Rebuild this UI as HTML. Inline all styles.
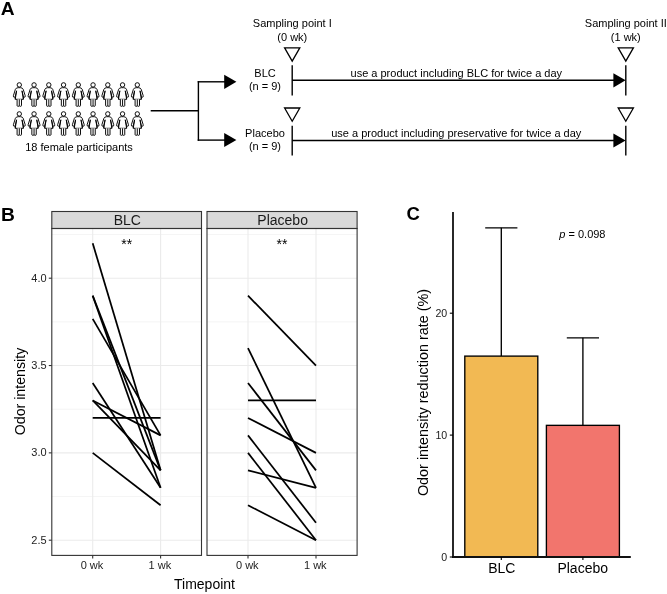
<!DOCTYPE html><html><head><meta charset="utf-8"><style>
html,body{margin:0;padding:0;background:#fff;width:667px;height:594px;overflow:hidden}
svg{display:block;will-change:transform}text{font-family:"Liberation Sans", sans-serif}
</style></head><body>
<svg width="667" height="594" viewBox="0 0 667 594">
<rect width="667" height="594" fill="#fff"/>
<text x="0.7" y="15.0" font-size="19.2" font-weight="bold" fill="#000">A</text>
<text x="0.9" y="220.9" font-size="19.2" font-weight="bold" fill="#000">B</text>
<text x="406.4" y="220.3" font-size="18.5" font-weight="bold" fill="#000">C</text>
<circle cx="19.30" cy="84.90" r="2.2" fill="none" stroke="#000" stroke-width="0.95"/><path d="M18.10 87.70 Q16.00 87.80 15.40 89.30 L13.40 95.70 Q13.10 97.30 14.30 97.20 L15.20 96.80 L15.25 99.30 L23.35 99.30 L23.40 96.80 L24.30 97.20 Q25.50 97.30 25.20 95.70 L23.20 89.30 Q22.60 87.80 20.50 87.70 Z" fill="#fff" stroke="#000" stroke-width="0.95" stroke-linejoin="round"/><path d="M15.20 96.80 L16.60 90.80 L15.25 99.30" fill="none" stroke="#000" stroke-width="0.95" stroke-linejoin="round"/><path d="M23.40 96.80 L22.00 90.80 L23.35 99.30" fill="none" stroke="#000" stroke-width="0.95" stroke-linejoin="round"/><path d="M17.10 99.30 L17.10 105.60 Q17.10 106.30 18.20 106.30 Q19.30 106.30 19.30 105.60 Q19.30 106.30 20.40 106.30 Q21.50 106.30 21.50 105.60 L21.50 99.30 M19.30 99.30 L19.30 105.60" fill="#fff" stroke="#000" stroke-width="0.95" stroke-linejoin="round"/>
<circle cx="34.05" cy="84.90" r="2.2" fill="none" stroke="#000" stroke-width="0.95"/><path d="M32.85 87.70 Q30.75 87.80 30.15 89.30 L28.15 95.70 Q27.85 97.30 29.05 97.20 L29.95 96.80 L30.00 99.30 L38.10 99.30 L38.15 96.80 L39.05 97.20 Q40.25 97.30 39.95 95.70 L37.95 89.30 Q37.35 87.80 35.25 87.70 Z" fill="#fff" stroke="#000" stroke-width="0.95" stroke-linejoin="round"/><path d="M29.95 96.80 L31.35 90.80 L30.00 99.30" fill="none" stroke="#000" stroke-width="0.95" stroke-linejoin="round"/><path d="M38.15 96.80 L36.75 90.80 L38.10 99.30" fill="none" stroke="#000" stroke-width="0.95" stroke-linejoin="round"/><path d="M31.85 99.30 L31.85 105.60 Q31.85 106.30 32.95 106.30 Q34.05 106.30 34.05 105.60 Q34.05 106.30 35.15 106.30 Q36.25 106.30 36.25 105.60 L36.25 99.30 M34.05 99.30 L34.05 105.60" fill="#fff" stroke="#000" stroke-width="0.95" stroke-linejoin="round"/>
<circle cx="48.80" cy="84.90" r="2.2" fill="none" stroke="#000" stroke-width="0.95"/><path d="M47.60 87.70 Q45.50 87.80 44.90 89.30 L42.90 95.70 Q42.60 97.30 43.80 97.20 L44.70 96.80 L44.75 99.30 L52.85 99.30 L52.90 96.80 L53.80 97.20 Q55.00 97.30 54.70 95.70 L52.70 89.30 Q52.10 87.80 50.00 87.70 Z" fill="#fff" stroke="#000" stroke-width="0.95" stroke-linejoin="round"/><path d="M44.70 96.80 L46.10 90.80 L44.75 99.30" fill="none" stroke="#000" stroke-width="0.95" stroke-linejoin="round"/><path d="M52.90 96.80 L51.50 90.80 L52.85 99.30" fill="none" stroke="#000" stroke-width="0.95" stroke-linejoin="round"/><path d="M46.60 99.30 L46.60 105.60 Q46.60 106.30 47.70 106.30 Q48.80 106.30 48.80 105.60 Q48.80 106.30 49.90 106.30 Q51.00 106.30 51.00 105.60 L51.00 99.30 M48.80 99.30 L48.80 105.60" fill="#fff" stroke="#000" stroke-width="0.95" stroke-linejoin="round"/>
<circle cx="63.55" cy="84.90" r="2.2" fill="none" stroke="#000" stroke-width="0.95"/><path d="M62.35 87.70 Q60.25 87.80 59.65 89.30 L57.65 95.70 Q57.35 97.30 58.55 97.20 L59.45 96.80 L59.50 99.30 L67.60 99.30 L67.65 96.80 L68.55 97.20 Q69.75 97.30 69.45 95.70 L67.45 89.30 Q66.85 87.80 64.75 87.70 Z" fill="#fff" stroke="#000" stroke-width="0.95" stroke-linejoin="round"/><path d="M59.45 96.80 L60.85 90.80 L59.50 99.30" fill="none" stroke="#000" stroke-width="0.95" stroke-linejoin="round"/><path d="M67.65 96.80 L66.25 90.80 L67.60 99.30" fill="none" stroke="#000" stroke-width="0.95" stroke-linejoin="round"/><path d="M61.35 99.30 L61.35 105.60 Q61.35 106.30 62.45 106.30 Q63.55 106.30 63.55 105.60 Q63.55 106.30 64.65 106.30 Q65.75 106.30 65.75 105.60 L65.75 99.30 M63.55 99.30 L63.55 105.60" fill="#fff" stroke="#000" stroke-width="0.95" stroke-linejoin="round"/>
<circle cx="78.30" cy="84.90" r="2.2" fill="none" stroke="#000" stroke-width="0.95"/><path d="M77.10 87.70 Q75.00 87.80 74.40 89.30 L72.40 95.70 Q72.10 97.30 73.30 97.20 L74.20 96.80 L74.25 99.30 L82.35 99.30 L82.40 96.80 L83.30 97.20 Q84.50 97.30 84.20 95.70 L82.20 89.30 Q81.60 87.80 79.50 87.70 Z" fill="#fff" stroke="#000" stroke-width="0.95" stroke-linejoin="round"/><path d="M74.20 96.80 L75.60 90.80 L74.25 99.30" fill="none" stroke="#000" stroke-width="0.95" stroke-linejoin="round"/><path d="M82.40 96.80 L81.00 90.80 L82.35 99.30" fill="none" stroke="#000" stroke-width="0.95" stroke-linejoin="round"/><path d="M76.10 99.30 L76.10 105.60 Q76.10 106.30 77.20 106.30 Q78.30 106.30 78.30 105.60 Q78.30 106.30 79.40 106.30 Q80.50 106.30 80.50 105.60 L80.50 99.30 M78.30 99.30 L78.30 105.60" fill="#fff" stroke="#000" stroke-width="0.95" stroke-linejoin="round"/>
<circle cx="93.05" cy="84.90" r="2.2" fill="none" stroke="#000" stroke-width="0.95"/><path d="M91.85 87.70 Q89.75 87.80 89.15 89.30 L87.15 95.70 Q86.85 97.30 88.05 97.20 L88.95 96.80 L89.00 99.30 L97.10 99.30 L97.15 96.80 L98.05 97.20 Q99.25 97.30 98.95 95.70 L96.95 89.30 Q96.35 87.80 94.25 87.70 Z" fill="#fff" stroke="#000" stroke-width="0.95" stroke-linejoin="round"/><path d="M88.95 96.80 L90.35 90.80 L89.00 99.30" fill="none" stroke="#000" stroke-width="0.95" stroke-linejoin="round"/><path d="M97.15 96.80 L95.75 90.80 L97.10 99.30" fill="none" stroke="#000" stroke-width="0.95" stroke-linejoin="round"/><path d="M90.85 99.30 L90.85 105.60 Q90.85 106.30 91.95 106.30 Q93.05 106.30 93.05 105.60 Q93.05 106.30 94.15 106.30 Q95.25 106.30 95.25 105.60 L95.25 99.30 M93.05 99.30 L93.05 105.60" fill="#fff" stroke="#000" stroke-width="0.95" stroke-linejoin="round"/>
<circle cx="107.80" cy="84.90" r="2.2" fill="none" stroke="#000" stroke-width="0.95"/><path d="M106.60 87.70 Q104.50 87.80 103.90 89.30 L101.90 95.70 Q101.60 97.30 102.80 97.20 L103.70 96.80 L103.75 99.30 L111.85 99.30 L111.90 96.80 L112.80 97.20 Q114.00 97.30 113.70 95.70 L111.70 89.30 Q111.10 87.80 109.00 87.70 Z" fill="#fff" stroke="#000" stroke-width="0.95" stroke-linejoin="round"/><path d="M103.70 96.80 L105.10 90.80 L103.75 99.30" fill="none" stroke="#000" stroke-width="0.95" stroke-linejoin="round"/><path d="M111.90 96.80 L110.50 90.80 L111.85 99.30" fill="none" stroke="#000" stroke-width="0.95" stroke-linejoin="round"/><path d="M105.60 99.30 L105.60 105.60 Q105.60 106.30 106.70 106.30 Q107.80 106.30 107.80 105.60 Q107.80 106.30 108.90 106.30 Q110.00 106.30 110.00 105.60 L110.00 99.30 M107.80 99.30 L107.80 105.60" fill="#fff" stroke="#000" stroke-width="0.95" stroke-linejoin="round"/>
<circle cx="122.55" cy="84.90" r="2.2" fill="none" stroke="#000" stroke-width="0.95"/><path d="M121.35 87.70 Q119.25 87.80 118.65 89.30 L116.65 95.70 Q116.35 97.30 117.55 97.20 L118.45 96.80 L118.50 99.30 L126.60 99.30 L126.65 96.80 L127.55 97.20 Q128.75 97.30 128.45 95.70 L126.45 89.30 Q125.85 87.80 123.75 87.70 Z" fill="#fff" stroke="#000" stroke-width="0.95" stroke-linejoin="round"/><path d="M118.45 96.80 L119.85 90.80 L118.50 99.30" fill="none" stroke="#000" stroke-width="0.95" stroke-linejoin="round"/><path d="M126.65 96.80 L125.25 90.80 L126.60 99.30" fill="none" stroke="#000" stroke-width="0.95" stroke-linejoin="round"/><path d="M120.35 99.30 L120.35 105.60 Q120.35 106.30 121.45 106.30 Q122.55 106.30 122.55 105.60 Q122.55 106.30 123.65 106.30 Q124.75 106.30 124.75 105.60 L124.75 99.30 M122.55 99.30 L122.55 105.60" fill="#fff" stroke="#000" stroke-width="0.95" stroke-linejoin="round"/>
<circle cx="137.30" cy="84.90" r="2.2" fill="none" stroke="#000" stroke-width="0.95"/><path d="M136.10 87.70 Q134.00 87.80 133.40 89.30 L131.40 95.70 Q131.10 97.30 132.30 97.20 L133.20 96.80 L133.25 99.30 L141.35 99.30 L141.40 96.80 L142.30 97.20 Q143.50 97.30 143.20 95.70 L141.20 89.30 Q140.60 87.80 138.50 87.70 Z" fill="#fff" stroke="#000" stroke-width="0.95" stroke-linejoin="round"/><path d="M133.20 96.80 L134.60 90.80 L133.25 99.30" fill="none" stroke="#000" stroke-width="0.95" stroke-linejoin="round"/><path d="M141.40 96.80 L140.00 90.80 L141.35 99.30" fill="none" stroke="#000" stroke-width="0.95" stroke-linejoin="round"/><path d="M135.10 99.30 L135.10 105.60 Q135.10 106.30 136.20 106.30 Q137.30 106.30 137.30 105.60 Q137.30 106.30 138.40 106.30 Q139.50 106.30 139.50 105.60 L139.50 99.30 M137.30 99.30 L137.30 105.60" fill="#fff" stroke="#000" stroke-width="0.95" stroke-linejoin="round"/>
<circle cx="19.30" cy="113.90" r="2.2" fill="none" stroke="#000" stroke-width="0.95"/><path d="M18.10 116.70 Q16.00 116.80 15.40 118.30 L13.40 124.70 Q13.10 126.30 14.30 126.20 L15.20 125.80 L15.25 128.30 L23.35 128.30 L23.40 125.80 L24.30 126.20 Q25.50 126.30 25.20 124.70 L23.20 118.30 Q22.60 116.80 20.50 116.70 Z" fill="#fff" stroke="#000" stroke-width="0.95" stroke-linejoin="round"/><path d="M15.20 125.80 L16.60 119.80 L15.25 128.30" fill="none" stroke="#000" stroke-width="0.95" stroke-linejoin="round"/><path d="M23.40 125.80 L22.00 119.80 L23.35 128.30" fill="none" stroke="#000" stroke-width="0.95" stroke-linejoin="round"/><path d="M17.10 128.30 L17.10 134.60 Q17.10 135.30 18.20 135.30 Q19.30 135.30 19.30 134.60 Q19.30 135.30 20.40 135.30 Q21.50 135.30 21.50 134.60 L21.50 128.30 M19.30 128.30 L19.30 134.60" fill="#fff" stroke="#000" stroke-width="0.95" stroke-linejoin="round"/>
<circle cx="34.05" cy="113.90" r="2.2" fill="none" stroke="#000" stroke-width="0.95"/><path d="M32.85 116.70 Q30.75 116.80 30.15 118.30 L28.15 124.70 Q27.85 126.30 29.05 126.20 L29.95 125.80 L30.00 128.30 L38.10 128.30 L38.15 125.80 L39.05 126.20 Q40.25 126.30 39.95 124.70 L37.95 118.30 Q37.35 116.80 35.25 116.70 Z" fill="#fff" stroke="#000" stroke-width="0.95" stroke-linejoin="round"/><path d="M29.95 125.80 L31.35 119.80 L30.00 128.30" fill="none" stroke="#000" stroke-width="0.95" stroke-linejoin="round"/><path d="M38.15 125.80 L36.75 119.80 L38.10 128.30" fill="none" stroke="#000" stroke-width="0.95" stroke-linejoin="round"/><path d="M31.85 128.30 L31.85 134.60 Q31.85 135.30 32.95 135.30 Q34.05 135.30 34.05 134.60 Q34.05 135.30 35.15 135.30 Q36.25 135.30 36.25 134.60 L36.25 128.30 M34.05 128.30 L34.05 134.60" fill="#fff" stroke="#000" stroke-width="0.95" stroke-linejoin="round"/>
<circle cx="48.80" cy="113.90" r="2.2" fill="none" stroke="#000" stroke-width="0.95"/><path d="M47.60 116.70 Q45.50 116.80 44.90 118.30 L42.90 124.70 Q42.60 126.30 43.80 126.20 L44.70 125.80 L44.75 128.30 L52.85 128.30 L52.90 125.80 L53.80 126.20 Q55.00 126.30 54.70 124.70 L52.70 118.30 Q52.10 116.80 50.00 116.70 Z" fill="#fff" stroke="#000" stroke-width="0.95" stroke-linejoin="round"/><path d="M44.70 125.80 L46.10 119.80 L44.75 128.30" fill="none" stroke="#000" stroke-width="0.95" stroke-linejoin="round"/><path d="M52.90 125.80 L51.50 119.80 L52.85 128.30" fill="none" stroke="#000" stroke-width="0.95" stroke-linejoin="round"/><path d="M46.60 128.30 L46.60 134.60 Q46.60 135.30 47.70 135.30 Q48.80 135.30 48.80 134.60 Q48.80 135.30 49.90 135.30 Q51.00 135.30 51.00 134.60 L51.00 128.30 M48.80 128.30 L48.80 134.60" fill="#fff" stroke="#000" stroke-width="0.95" stroke-linejoin="round"/>
<circle cx="63.55" cy="113.90" r="2.2" fill="none" stroke="#000" stroke-width="0.95"/><path d="M62.35 116.70 Q60.25 116.80 59.65 118.30 L57.65 124.70 Q57.35 126.30 58.55 126.20 L59.45 125.80 L59.50 128.30 L67.60 128.30 L67.65 125.80 L68.55 126.20 Q69.75 126.30 69.45 124.70 L67.45 118.30 Q66.85 116.80 64.75 116.70 Z" fill="#fff" stroke="#000" stroke-width="0.95" stroke-linejoin="round"/><path d="M59.45 125.80 L60.85 119.80 L59.50 128.30" fill="none" stroke="#000" stroke-width="0.95" stroke-linejoin="round"/><path d="M67.65 125.80 L66.25 119.80 L67.60 128.30" fill="none" stroke="#000" stroke-width="0.95" stroke-linejoin="round"/><path d="M61.35 128.30 L61.35 134.60 Q61.35 135.30 62.45 135.30 Q63.55 135.30 63.55 134.60 Q63.55 135.30 64.65 135.30 Q65.75 135.30 65.75 134.60 L65.75 128.30 M63.55 128.30 L63.55 134.60" fill="#fff" stroke="#000" stroke-width="0.95" stroke-linejoin="round"/>
<circle cx="78.30" cy="113.90" r="2.2" fill="none" stroke="#000" stroke-width="0.95"/><path d="M77.10 116.70 Q75.00 116.80 74.40 118.30 L72.40 124.70 Q72.10 126.30 73.30 126.20 L74.20 125.80 L74.25 128.30 L82.35 128.30 L82.40 125.80 L83.30 126.20 Q84.50 126.30 84.20 124.70 L82.20 118.30 Q81.60 116.80 79.50 116.70 Z" fill="#fff" stroke="#000" stroke-width="0.95" stroke-linejoin="round"/><path d="M74.20 125.80 L75.60 119.80 L74.25 128.30" fill="none" stroke="#000" stroke-width="0.95" stroke-linejoin="round"/><path d="M82.40 125.80 L81.00 119.80 L82.35 128.30" fill="none" stroke="#000" stroke-width="0.95" stroke-linejoin="round"/><path d="M76.10 128.30 L76.10 134.60 Q76.10 135.30 77.20 135.30 Q78.30 135.30 78.30 134.60 Q78.30 135.30 79.40 135.30 Q80.50 135.30 80.50 134.60 L80.50 128.30 M78.30 128.30 L78.30 134.60" fill="#fff" stroke="#000" stroke-width="0.95" stroke-linejoin="round"/>
<circle cx="93.05" cy="113.90" r="2.2" fill="none" stroke="#000" stroke-width="0.95"/><path d="M91.85 116.70 Q89.75 116.80 89.15 118.30 L87.15 124.70 Q86.85 126.30 88.05 126.20 L88.95 125.80 L89.00 128.30 L97.10 128.30 L97.15 125.80 L98.05 126.20 Q99.25 126.30 98.95 124.70 L96.95 118.30 Q96.35 116.80 94.25 116.70 Z" fill="#fff" stroke="#000" stroke-width="0.95" stroke-linejoin="round"/><path d="M88.95 125.80 L90.35 119.80 L89.00 128.30" fill="none" stroke="#000" stroke-width="0.95" stroke-linejoin="round"/><path d="M97.15 125.80 L95.75 119.80 L97.10 128.30" fill="none" stroke="#000" stroke-width="0.95" stroke-linejoin="round"/><path d="M90.85 128.30 L90.85 134.60 Q90.85 135.30 91.95 135.30 Q93.05 135.30 93.05 134.60 Q93.05 135.30 94.15 135.30 Q95.25 135.30 95.25 134.60 L95.25 128.30 M93.05 128.30 L93.05 134.60" fill="#fff" stroke="#000" stroke-width="0.95" stroke-linejoin="round"/>
<circle cx="107.80" cy="113.90" r="2.2" fill="none" stroke="#000" stroke-width="0.95"/><path d="M106.60 116.70 Q104.50 116.80 103.90 118.30 L101.90 124.70 Q101.60 126.30 102.80 126.20 L103.70 125.80 L103.75 128.30 L111.85 128.30 L111.90 125.80 L112.80 126.20 Q114.00 126.30 113.70 124.70 L111.70 118.30 Q111.10 116.80 109.00 116.70 Z" fill="#fff" stroke="#000" stroke-width="0.95" stroke-linejoin="round"/><path d="M103.70 125.80 L105.10 119.80 L103.75 128.30" fill="none" stroke="#000" stroke-width="0.95" stroke-linejoin="round"/><path d="M111.90 125.80 L110.50 119.80 L111.85 128.30" fill="none" stroke="#000" stroke-width="0.95" stroke-linejoin="round"/><path d="M105.60 128.30 L105.60 134.60 Q105.60 135.30 106.70 135.30 Q107.80 135.30 107.80 134.60 Q107.80 135.30 108.90 135.30 Q110.00 135.30 110.00 134.60 L110.00 128.30 M107.80 128.30 L107.80 134.60" fill="#fff" stroke="#000" stroke-width="0.95" stroke-linejoin="round"/>
<circle cx="122.55" cy="113.90" r="2.2" fill="none" stroke="#000" stroke-width="0.95"/><path d="M121.35 116.70 Q119.25 116.80 118.65 118.30 L116.65 124.70 Q116.35 126.30 117.55 126.20 L118.45 125.80 L118.50 128.30 L126.60 128.30 L126.65 125.80 L127.55 126.20 Q128.75 126.30 128.45 124.70 L126.45 118.30 Q125.85 116.80 123.75 116.70 Z" fill="#fff" stroke="#000" stroke-width="0.95" stroke-linejoin="round"/><path d="M118.45 125.80 L119.85 119.80 L118.50 128.30" fill="none" stroke="#000" stroke-width="0.95" stroke-linejoin="round"/><path d="M126.65 125.80 L125.25 119.80 L126.60 128.30" fill="none" stroke="#000" stroke-width="0.95" stroke-linejoin="round"/><path d="M120.35 128.30 L120.35 134.60 Q120.35 135.30 121.45 135.30 Q122.55 135.30 122.55 134.60 Q122.55 135.30 123.65 135.30 Q124.75 135.30 124.75 134.60 L124.75 128.30 M122.55 128.30 L122.55 134.60" fill="#fff" stroke="#000" stroke-width="0.95" stroke-linejoin="round"/>
<circle cx="137.30" cy="113.90" r="2.2" fill="none" stroke="#000" stroke-width="0.95"/><path d="M136.10 116.70 Q134.00 116.80 133.40 118.30 L131.40 124.70 Q131.10 126.30 132.30 126.20 L133.20 125.80 L133.25 128.30 L141.35 128.30 L141.40 125.80 L142.30 126.20 Q143.50 126.30 143.20 124.70 L141.20 118.30 Q140.60 116.80 138.50 116.70 Z" fill="#fff" stroke="#000" stroke-width="0.95" stroke-linejoin="round"/><path d="M133.20 125.80 L134.60 119.80 L133.25 128.30" fill="none" stroke="#000" stroke-width="0.95" stroke-linejoin="round"/><path d="M141.40 125.80 L140.00 119.80 L141.35 128.30" fill="none" stroke="#000" stroke-width="0.95" stroke-linejoin="round"/><path d="M135.10 128.30 L135.10 134.60 Q135.10 135.30 136.20 135.30 Q137.30 135.30 137.30 134.60 Q137.30 135.30 138.40 135.30 Q139.50 135.30 139.50 134.60 L139.50 128.30 M137.30 128.30 L137.30 134.60" fill="#fff" stroke="#000" stroke-width="0.95" stroke-linejoin="round"/>
<text x="79" y="151.2" font-size="11" text-anchor="middle" fill="#000">18 female participants</text>
<line x1="150.70" y1="110.80" x2="198.40" y2="110.80" stroke="#000" stroke-width="1.40"/>
<line x1="198.40" y1="81.10" x2="198.40" y2="140.80" stroke="#000" stroke-width="1.40"/>
<line x1="197.70" y1="81.80" x2="225.00" y2="81.80" stroke="#000" stroke-width="1.40"/>
<line x1="197.70" y1="140.10" x2="225.00" y2="140.10" stroke="#000" stroke-width="1.40"/>
<path d="M224.20 74.70 L236.40 81.80 L224.20 88.90 Z" fill="#000"/>
<path d="M224.20 132.90 L236.40 140.00 L224.20 147.10 Z" fill="#000"/>
<text x="265" y="76.8" font-size="11" text-anchor="middle" fill="#000">BLC</text>
<text x="265" y="90.3" font-size="11" text-anchor="middle" fill="#000">(n = 9)</text>
<text x="265" y="136.6" font-size="11" text-anchor="middle" fill="#000">Placebo</text>
<text x="265" y="150.0" font-size="11" text-anchor="middle" fill="#000">(n = 9)</text>
<text x="292.3" y="27.4" font-size="11" text-anchor="middle" fill="#000">Sampling point I</text>
<text x="292.3" y="41.0" font-size="11" text-anchor="middle" fill="#000">(0 wk)</text>
<text x="625.8" y="27.4" font-size="11" text-anchor="middle" fill="#000">Sampling point II</text>
<text x="625.8" y="41.0" font-size="11" text-anchor="middle" fill="#000">(1 wk)</text>
<path d="M284.60 47.90 L299.80 47.90 L292.20 61.10 Z" fill="#fff" stroke="#000" stroke-width="1.3" stroke-linejoin="miter"/>
<path d="M284.60 108.00 L299.80 108.00 L292.20 121.20 Z" fill="#fff" stroke="#000" stroke-width="1.3" stroke-linejoin="miter"/>
<line x1="292.20" y1="65.30" x2="292.20" y2="95.40" stroke="#000" stroke-width="1.40"/>
<line x1="292.20" y1="125.80" x2="292.20" y2="155.60" stroke="#000" stroke-width="1.40"/>
<path d="M618.20 47.90 L633.40 47.90 L625.80 61.10 Z" fill="#fff" stroke="#000" stroke-width="1.3" stroke-linejoin="miter"/>
<path d="M618.20 108.00 L633.40 108.00 L625.80 121.20 Z" fill="#fff" stroke="#000" stroke-width="1.3" stroke-linejoin="miter"/>
<line x1="625.80" y1="65.30" x2="625.80" y2="95.40" stroke="#000" stroke-width="1.40"/>
<line x1="625.80" y1="125.80" x2="625.80" y2="155.60" stroke="#000" stroke-width="1.40"/>
<line x1="292.20" y1="80.30" x2="614.00" y2="80.30" stroke="#000" stroke-width="1.40"/>
<line x1="292.20" y1="140.50" x2="614.00" y2="140.50" stroke="#000" stroke-width="1.40"/>
<path d="M613.40 73.20 L625.60 80.30 L613.40 87.40 Z" fill="#000"/>
<path d="M613.40 133.40 L625.60 140.50 L613.40 147.60 Z" fill="#000"/>
<text x="456.3" y="76.9" font-size="11" text-anchor="middle" fill="#000">use a product including BLC for twice a day</text>
<text x="456.3" y="136.6" font-size="11" text-anchor="middle" fill="#000">use a product including preservative for twice a day</text>
<rect x="51.80" y="228.50" width="149.70" height="326.90" fill="#fff"/>
<line x1="51.80" y1="496.54" x2="201.50" y2="496.54" stroke="#EBEBEB" stroke-width="0.55"/>
<line x1="51.80" y1="409.20" x2="201.50" y2="409.20" stroke="#EBEBEB" stroke-width="0.55"/>
<line x1="51.80" y1="321.87" x2="201.50" y2="321.87" stroke="#EBEBEB" stroke-width="0.55"/>
<line x1="51.80" y1="234.53" x2="201.50" y2="234.53" stroke="#EBEBEB" stroke-width="0.55"/>
<line x1="51.80" y1="540.20" x2="201.50" y2="540.20" stroke="#EBEBEB" stroke-width="1.10"/>
<line x1="51.80" y1="452.87" x2="201.50" y2="452.87" stroke="#EBEBEB" stroke-width="1.10"/>
<line x1="51.80" y1="365.53" x2="201.50" y2="365.53" stroke="#EBEBEB" stroke-width="1.10"/>
<line x1="51.80" y1="278.20" x2="201.50" y2="278.20" stroke="#EBEBEB" stroke-width="1.10"/>
<line x1="92.70" y1="228.50" x2="92.70" y2="555.40" stroke="#EBEBEB" stroke-width="1.10"/>
<line x1="160.60" y1="228.50" x2="160.60" y2="555.40" stroke="#EBEBEB" stroke-width="1.10"/>
<line x1="92.70" y1="243.27" x2="160.60" y2="470.34" stroke="#000" stroke-width="1.75" stroke-linecap="butt"/>
<line x1="92.70" y1="295.67" x2="160.60" y2="470.34" stroke="#000" stroke-width="1.75" stroke-linecap="butt"/>
<line x1="92.70" y1="295.67" x2="160.60" y2="487.80" stroke="#000" stroke-width="1.75" stroke-linecap="butt"/>
<line x1="92.70" y1="318.90" x2="160.60" y2="435.40" stroke="#000" stroke-width="1.75" stroke-linecap="butt"/>
<line x1="92.70" y1="383.00" x2="160.60" y2="487.80" stroke="#000" stroke-width="1.75" stroke-linecap="butt"/>
<line x1="92.70" y1="400.47" x2="160.60" y2="470.34" stroke="#000" stroke-width="1.75" stroke-linecap="butt"/>
<line x1="92.70" y1="400.47" x2="160.60" y2="435.40" stroke="#000" stroke-width="1.75" stroke-linecap="butt"/>
<line x1="92.70" y1="417.94" x2="160.60" y2="417.94" stroke="#000" stroke-width="1.75" stroke-linecap="butt"/>
<line x1="92.70" y1="452.87" x2="160.60" y2="505.27" stroke="#000" stroke-width="1.75" stroke-linecap="butt"/>
<rect x="51.80" y="211.50" width="149.70" height="17.00" fill="#D9D9D9" stroke="#333" stroke-width="1.1"/>
<rect x="51.80" y="228.50" width="149.70" height="326.90" fill="none" stroke="#333" stroke-width="1.1"/>
<text x="127.25" y="224.7" font-size="14" text-anchor="middle" fill="#1A1A1A">BLC</text>
<text x="126.65" y="249.2" font-size="14" text-anchor="middle" fill="#000">**</text>
<line x1="92.70" y1="555.40" x2="92.70" y2="558.40" stroke="#333" stroke-width="1.10"/>
<text x="92.00" y="569.1" font-size="11" text-anchor="middle" fill="#222">0 wk</text>
<line x1="160.60" y1="555.40" x2="160.60" y2="558.40" stroke="#333" stroke-width="1.10"/>
<text x="159.90" y="569.1" font-size="11" text-anchor="middle" fill="#222">1 wk</text>
<rect x="207.00" y="228.50" width="150.10" height="326.90" fill="#fff"/>
<line x1="207.00" y1="496.54" x2="357.10" y2="496.54" stroke="#EBEBEB" stroke-width="0.55"/>
<line x1="207.00" y1="409.20" x2="357.10" y2="409.20" stroke="#EBEBEB" stroke-width="0.55"/>
<line x1="207.00" y1="321.87" x2="357.10" y2="321.87" stroke="#EBEBEB" stroke-width="0.55"/>
<line x1="207.00" y1="234.53" x2="357.10" y2="234.53" stroke="#EBEBEB" stroke-width="0.55"/>
<line x1="207.00" y1="540.20" x2="357.10" y2="540.20" stroke="#EBEBEB" stroke-width="1.10"/>
<line x1="207.00" y1="452.87" x2="357.10" y2="452.87" stroke="#EBEBEB" stroke-width="1.10"/>
<line x1="207.00" y1="365.53" x2="357.10" y2="365.53" stroke="#EBEBEB" stroke-width="1.10"/>
<line x1="207.00" y1="278.20" x2="357.10" y2="278.20" stroke="#EBEBEB" stroke-width="1.10"/>
<line x1="248.00" y1="228.50" x2="248.00" y2="555.40" stroke="#EBEBEB" stroke-width="1.10"/>
<line x1="316.00" y1="228.50" x2="316.00" y2="555.40" stroke="#EBEBEB" stroke-width="1.10"/>
<line x1="248.00" y1="295.67" x2="316.00" y2="365.53" stroke="#000" stroke-width="1.75" stroke-linecap="butt"/>
<line x1="248.00" y1="348.07" x2="316.00" y2="487.80" stroke="#000" stroke-width="1.75" stroke-linecap="butt"/>
<line x1="248.00" y1="383.00" x2="316.00" y2="470.34" stroke="#000" stroke-width="1.75" stroke-linecap="butt"/>
<line x1="248.00" y1="400.47" x2="316.00" y2="400.47" stroke="#000" stroke-width="1.75" stroke-linecap="butt"/>
<line x1="248.00" y1="417.94" x2="316.00" y2="452.87" stroke="#000" stroke-width="1.75" stroke-linecap="butt"/>
<line x1="248.00" y1="435.40" x2="316.00" y2="522.74" stroke="#000" stroke-width="1.75" stroke-linecap="butt"/>
<line x1="248.00" y1="452.87" x2="316.00" y2="540.20" stroke="#000" stroke-width="1.75" stroke-linecap="butt"/>
<line x1="248.00" y1="470.34" x2="316.00" y2="487.80" stroke="#000" stroke-width="1.75" stroke-linecap="butt"/>
<line x1="248.00" y1="505.27" x2="316.00" y2="540.20" stroke="#000" stroke-width="1.75" stroke-linecap="butt"/>
<rect x="207.00" y="211.50" width="150.10" height="17.00" fill="#D9D9D9" stroke="#333" stroke-width="1.1"/>
<rect x="207.00" y="228.50" width="150.10" height="326.90" fill="none" stroke="#333" stroke-width="1.1"/>
<text x="282.65" y="224.7" font-size="14" text-anchor="middle" fill="#1A1A1A">Placebo</text>
<text x="282.05" y="249.2" font-size="14" text-anchor="middle" fill="#000">**</text>
<line x1="248.00" y1="555.40" x2="248.00" y2="558.40" stroke="#333" stroke-width="1.10"/>
<text x="247.30" y="569.1" font-size="11" text-anchor="middle" fill="#222">0 wk</text>
<line x1="316.00" y1="555.40" x2="316.00" y2="558.40" stroke="#333" stroke-width="1.10"/>
<text x="315.30" y="569.1" font-size="11" text-anchor="middle" fill="#222">1 wk</text>
<line x1="48.80" y1="540.20" x2="51.80" y2="540.20" stroke="#333" stroke-width="1.10"/>
<text x="46.6" y="544.10" font-size="11" text-anchor="end" fill="#222">2.5</text>
<line x1="48.80" y1="452.87" x2="51.80" y2="452.87" stroke="#333" stroke-width="1.10"/>
<text x="46.6" y="456.27" font-size="11" text-anchor="end" fill="#222">3.0</text>
<line x1="48.80" y1="365.53" x2="51.80" y2="365.53" stroke="#333" stroke-width="1.10"/>
<text x="46.6" y="369.43" font-size="11" text-anchor="end" fill="#222">3.5</text>
<line x1="48.80" y1="278.20" x2="51.80" y2="278.20" stroke="#333" stroke-width="1.10"/>
<text x="46.6" y="282.10" font-size="11" text-anchor="end" fill="#222">4.0</text>
<text x="204.5" y="589.4" font-size="14" text-anchor="middle" fill="#000">Timepoint</text>
<text transform="translate(25.0 391.5) rotate(-90)" x="0" y="0" font-size="14.2" text-anchor="middle" fill="#000">Odor intensity</text>
<line x1="501.30" y1="227.87" x2="501.30" y2="356.11" stroke="#000" stroke-width="1.35"/>
<line x1="485.20" y1="227.87" x2="517.40" y2="227.87" stroke="#000" stroke-width="1.35"/>
<rect x="464.80" y="356.11" width="73.00" height="200.89" fill="#F2B953" stroke="#000" stroke-width="1.35"/>
<line x1="582.90" y1="337.82" x2="582.90" y2="425.35" stroke="#000" stroke-width="1.35"/>
<line x1="566.80" y1="337.82" x2="599.00" y2="337.82" stroke="#000" stroke-width="1.35"/>
<rect x="546.40" y="425.35" width="73.00" height="131.65" fill="#F2756D" stroke="#000" stroke-width="1.35"/>
<line x1="453.00" y1="212.00" x2="453.00" y2="557.90" stroke="#111" stroke-width="1.80"/>
<line x1="452.10" y1="557.00" x2="630.80" y2="557.00" stroke="#111" stroke-width="1.80"/>
<line x1="449.80" y1="557.00" x2="453.00" y2="557.00" stroke="#000" stroke-width="1.10"/>
<text x="447.2" y="560.80" font-size="10.6" text-anchor="end" fill="#1A1A1A">0</text>
<line x1="449.80" y1="435.10" x2="453.00" y2="435.10" stroke="#000" stroke-width="1.10"/>
<text x="447.2" y="438.90" font-size="10.6" text-anchor="end" fill="#1A1A1A">10</text>
<line x1="449.80" y1="313.20" x2="453.00" y2="313.20" stroke="#000" stroke-width="1.10"/>
<text x="447.2" y="317.00" font-size="10.6" text-anchor="end" fill="#1A1A1A">20</text>
<line x1="501.30" y1="557.00" x2="501.30" y2="560.00" stroke="#000" stroke-width="1.10"/>
<text x="501.80" y="572.9" font-size="14" text-anchor="middle" fill="#000">BLC</text>
<line x1="582.90" y1="557.00" x2="582.90" y2="560.00" stroke="#000" stroke-width="1.10"/>
<text x="582.70" y="572.9" font-size="14" text-anchor="middle" fill="#000">Placebo</text>
<text x="559.3" y="237.8" font-size="11" fill="#000"><tspan font-style="italic">p</tspan> = 0.098</text>
<text transform="translate(428.0 392.5) rotate(-90)" x="0" y="0" font-size="14.4" text-anchor="middle" fill="#000">Odor intensity reduction rate (%)</text>
</svg></body></html>
